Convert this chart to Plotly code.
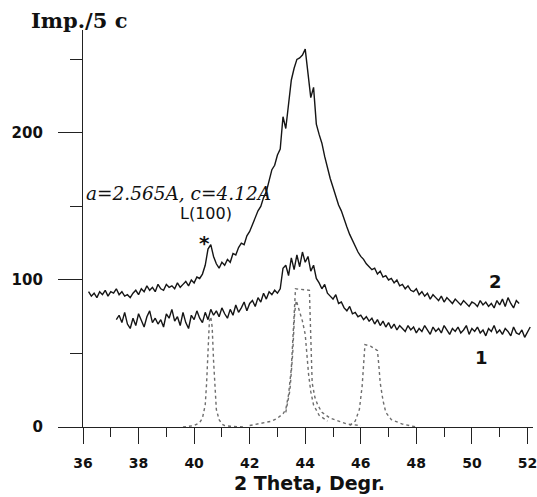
import numpy as np
import plotly.graph_objects as go

# ---- data ----
theta_step = 0.1

curve2_start = 36.2
curve2 = [
    92, 89, 91, 88, 92, 90, 93, 89, 92, 91,
    94, 90, 92, 89, 90, 88, 91, 93, 90, 94,
    92, 96, 93, 95, 92, 97, 94, 93, 97, 95,
    96, 94, 98, 95, 97, 99, 96, 100, 98, 102,
    101, 104, 110, 121, 124, 116, 111, 108, 112, 110,
    114, 112, 118, 117, 122, 125, 124, 130, 133, 138,
    142, 147, 150, 156, 160, 168, 175, 178, 185, 189,
    211, 203, 222, 236, 244, 250, 251, 253, 257, 238,
    224, 231, 206, 199, 193, 184, 176, 169, 163, 157,
    151, 147, 141, 136, 131, 127, 122, 119, 116, 114,
    111, 109, 107, 108, 104, 106, 102, 103, 100, 101,
    98, 100, 96, 97, 94, 96, 93, 92, 94, 90,
    92, 89, 91, 87, 90, 88, 86, 89, 85, 88,
    86, 84, 87, 85, 83, 86, 84, 82, 85, 84,
    82, 86, 83, 85, 82, 84, 81, 86, 83, 87,
    82, 88, 84, 81, 86, 84,
]

curve1_start = 37.2
curve1 = [
    73, 76, 71, 78, 70, 67, 74, 69, 77, 72,
    68, 75, 79, 71, 74, 70, 73, 68, 77, 74,
    80, 72, 75, 69, 78, 71, 67, 76, 73, 79,
    74, 71, 78, 73, 80, 76, 79, 75, 81, 77,
    74, 80, 76, 83, 78, 81, 85, 79, 84, 86,
    82, 88, 85, 91, 87, 92, 90, 93, 91, 94,
    108, 110, 103, 115, 107, 117, 109, 119, 112, 116,
    106, 110, 101, 98, 94, 97, 91, 89, 87, 90,
    84, 85, 81, 79, 82, 77, 78, 75, 76, 73,
    75, 72, 74, 70, 73, 69, 72, 68, 71, 67,
    70, 66, 69, 67, 65, 69, 66, 68, 64, 67,
    65, 69, 66, 63, 68, 65, 67, 64, 69, 66,
    63, 67, 65, 68, 64, 66, 69, 63, 67, 65,
    68, 64, 66, 62, 67, 65, 69, 64, 66, 63,
    67, 65, 62, 68, 64, 63, 66, 61, 65, 68,
]

# reference (calculated) lines, dotted
peakA_theta = [39.6, 40.0, 40.1, 40.2, 40.3, 40.4, 40.45, 40.5, 40.55, 40.6, 40.65, 40.7, 40.75, 40.8, 40.9, 41.0, 41.1, 41.3, 41.8]
peakA_int = [0, 1, 2, 3, 6, 15, 30, 55, 72, 75, 68, 45, 25, 12, 5, 2, 1, 0.5, 0]

peakB_theta = [42.0, 42.5, 42.8, 43.0, 43.2, 43.3, 43.4, 43.5, 43.55, 43.6, 43.65, 44.15, 44.2, 44.25, 44.35, 44.45, 44.6, 44.9, 45.2, 45.5, 46.0]
peakB_int = [1, 3, 4, 6, 9, 12, 22, 40, 58, 82, 94, 93, 58, 30, 20, 15, 10, 6, 4, 2, 1]

peakB2_theta = [43.3, 43.45, 43.55, 43.62, 43.68, 43.78, 43.9, 44.0, 44.05, 44.12, 44.2, 44.3, 44.5, 44.8]
peakB2_int = [10, 25, 50, 78, 86, 80, 72, 63, 50, 36, 24, 15, 8, 4]

peakC_theta = [45.6, 45.8, 45.95, 46.05, 46.1, 46.15, 46.35, 46.6, 46.65, 46.7, 46.8, 46.9, 47.1, 47.5, 48.0]
peakC_int = [1, 4, 12, 28, 42, 56, 55, 52, 42, 30, 18, 10, 5, 2, 0]

x_ticks = [36, 38, 40, 42, 44, 46, 48, 50, 52]
y_ticks = [0, 100, 200]
y_minor = [50, 150, 250]

theta2 = np.round(curve2_start + theta_step * np.arange(len(curve2)), 2)
theta1 = np.round(curve1_start + theta_step * np.arange(len(curve1)), 2)

fig = go.Figure()
dot = dict(color="#6e6e6e", width=1.4, dash="dot")
for tx, ty in [(peakA_theta, peakA_int), (peakB_theta, peakB_int),
               (peakB2_theta, peakB2_int), (peakC_theta, peakC_int)]:
    fig.add_trace(go.Scatter(x=tx, y=ty, mode="lines", line=dot, showlegend=False, hoverinfo="skip"))

fig.add_trace(go.Scatter(x=theta1, y=curve1, mode="lines",
                         line=dict(color="#151515", width=1.4), showlegend=False))
fig.add_trace(go.Scatter(x=theta2, y=curve2, mode="lines",
                         line=dict(color="#151515", width=1.4), showlegend=False))

ytickfont = dict(family="DejaVu Sans", size=15, color="#111", weight="bold")
xtickfont = dict(family="DejaVu Sans", size=14, color="#111", weight="bold")
fig.update_layout(
    width=537, height=497,
    margin=dict(l=83, r=4, t=30, b=70, autoexpand=False),
    paper_bgcolor="white", plot_bgcolor="white",
    xaxis=dict(range=[36, 52.2], tickvals=x_ticks, ticks="outside", ticklen=16,
               tickwidth=1.3, tickcolor="#222", showline=True, linecolor="#222",
               linewidth=1.3, showgrid=False, zeroline=False, tickfont=xtickfont,
               ticklabelstandoff=7, automargin=False, ticklabeloverflow="allow",
               minor=dict(dtick=1, tick0=36, ticks="outside", ticklen=9,
                          tickwidth=1.2, tickcolor="#222", showgrid=False)),
    yaxis=dict(range=[0, 270], tickvals=y_ticks, ticks="outside", ticklen=24,
               tickwidth=1.3, tickcolor="#222", showline=True, linecolor="#222",
               linewidth=1.3, showgrid=False, zeroline=False, tickfont=ytickfont,
               ticklabelstandoff=12, automargin=False, ticklabeloverflow="allow",
               minor=dict(tickvals=y_minor, ticks="outside", ticklen=12,
                          tickwidth=1.2, tickcolor="#222", showgrid=False)),
)

# outside-plot titles (paper coordinates)
fig.add_annotation(xref="paper", yref="paper", x=-0.009, y=1.025, showarrow=False,
                   xanchor="center", yanchor="middle", text="<b>Imp./5 c</b>",
                   font=dict(family="DejaVu Serif", size=21, color="#111"))
fig.add_annotation(xref="paper", yref="paper", x=0.504, y=-0.141, showarrow=False,
                   xanchor="center", yanchor="middle", text="<b>2 Theta, Degr.</b>",
                   font=dict(family="DejaVu Sans", size=19, color="#111"))

ann = [
    dict(x=36.03, y=159, text="<i>a=2.565A, c=4.12A</i>", xanchor="left",
         font=dict(family="DejaVu Serif", size=18.5, color="#111")),
    dict(x=40.43, y=145, text="L(100)",
         font=dict(family="DejaVu Sans", size=16, color="#111")),
    dict(x=40.36, y=125, text="<b>*</b>",
         font=dict(family="DejaVu Sans", size=20, color="#111")),
    dict(x=50.85, y=99, text="<b>2</b>",
         font=dict(family="DejaVu Sans", size=18, color="#111")),
    dict(x=50.34, y=47, text="<b>1</b>",
         font=dict(family="DejaVu Sans", size=18, color="#111")),
]
for a in ann:
    a.setdefault("xanchor", "center")
    fig.add_annotation(xref="x", yref="y", showarrow=False, yanchor="middle", **a)

# remove the default page margin so the figure fills the window exactly
fig.write_html("out.html", config={"displayModeBar": False},
               post_script="document.body.style.margin='0';")
